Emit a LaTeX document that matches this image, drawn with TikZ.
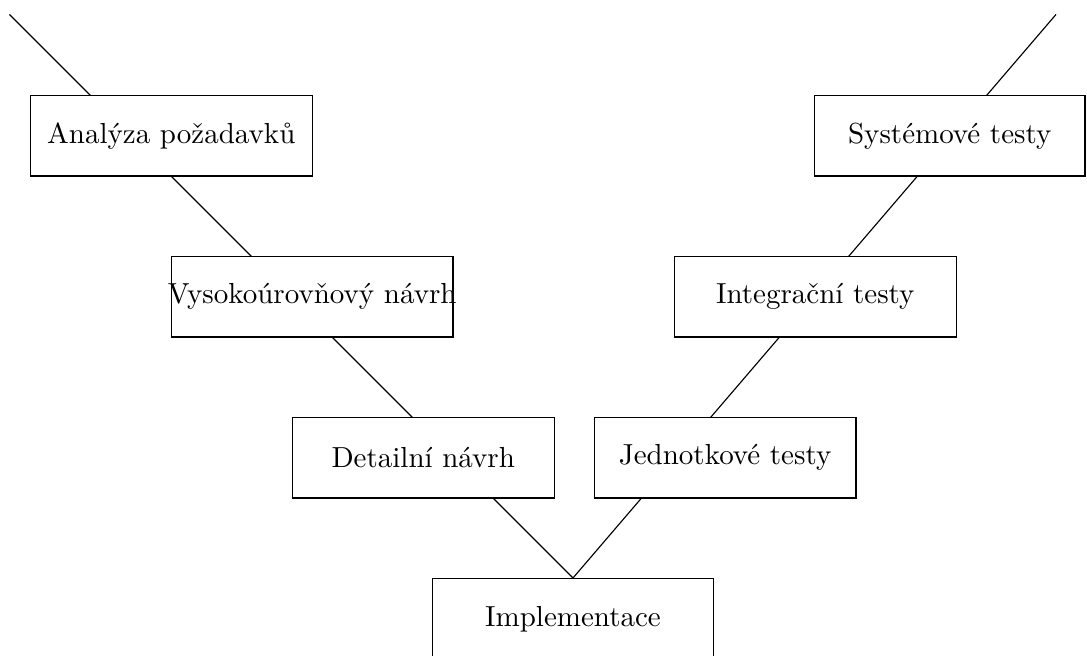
\documentclass[tikz,border=0pt]{standalone}
\usepackage{tikz}
\usetikzlibrary{positioning}

\begin{document}
\begin{tikzpicture}[node distance=2cm, on grid, auto,
    font=\fontsize{10.25pt}{12pt}\selectfont,
    phase/.style={draw, fill=white, minimum height=1cm, minimum width=#1},
    phase/.default=3.5cm]
    \useasboundingbox (-7.118,-0.957) rectangle (6.385,7.180);
    \clip (-7.118,-0.957) rectangle (6.385,7.180);

    % the V
    \coordinate (tip) at (0,0);
    \coordinate (lend) at (-7,7);
    \coordinate (rend) at (6,7);
    \draw (lend) -- (tip) -- (rend);

    \node[phase, anchor=north] (impl) at (tip) {Implementace};
    % left branch
    \node[phase=3.25cm] (detail) [above left=2cm and 1.86cm of impl] {Detailní návrh};
    \node[phase] (hld) [above left=2cm and 1.38cm of detail] {\makebox[0pt]{Vysokoúrovňový návrh}};
    \node[phase] (req) [above left=2cm and 1.75cm of hld] {Analýza požadavků};
    % right branch
    \node[phase=3.25cm] (unit) [above right=2cm and 1.89cm of impl] {Jednotkové testy};
    \node[phase] (integ) [above right=2cm and 1.12cm of unit] {Integrační testy};
    \node[phase=3.36cm] (sys) [above right=2cm and 1.67cm of integ] {Systémové testy};
\end{tikzpicture}
\end{document}
